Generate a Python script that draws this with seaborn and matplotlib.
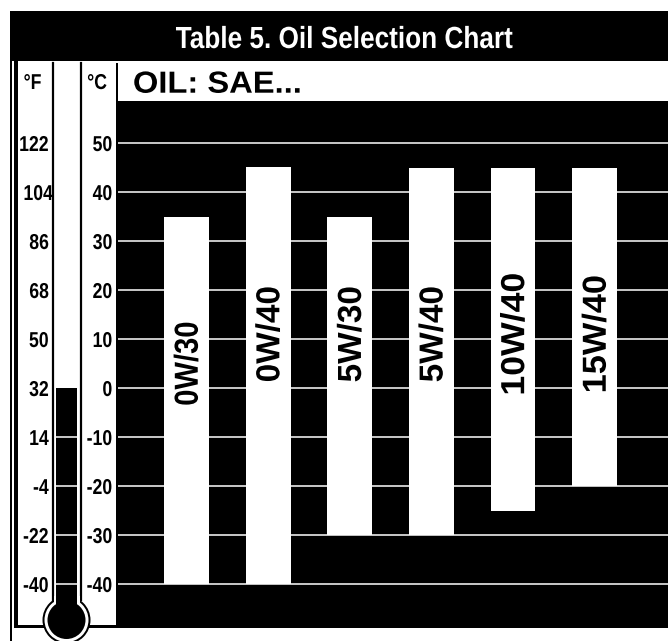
import matplotlib
matplotlib.use("Agg")
import matplotlib.pyplot as plt
from matplotlib.patches import Circle, Rectangle
from matplotlib.patheffects import AbstractPathEffect
from matplotlib.transforms import Affine2D
import pandas as pd
import seaborn as sns


OUTPUT_PATH = "out.png"

TITLE = "Table 5. Oil Selection Chart"
HEADER = "OIL: SAE..."

OILS = ["0W/30", "0W/40", "5W/30", "5W/40", "10W/40", "15W/40"]
TEMP_MAX_C = [35, 45, 35, 45, 45, 45]
TEMP_MIN_C = [-40, -40, -30, -30, -25, -20]

CELSIUS_TICKS = [50, 40, 30, 20, 10, 0, -10, -20, -30, -40]
CELSIUS_LABELS = ["50", "40", "30", "20", "10", "0", "-10", "-20", "-30", "-40"]
FAHRENHEIT_LABELS = ["122", "104", "86", "68", "50", "32", "14", "-4", "-22", "-40"]
THERMOMETER_TOP_C = 0

WIDTH_PX, HEIGHT_PX = 668, 641
FONT = ["Liberation Sans"]


class Squeeze(AbstractPathEffect):
    # the original lettering is condensed, no installed font has that cut
    def __init__(self, sx=1.0, sy=1.0, anchor="center"):
        super().__init__()
        self.sx, self.sy, self.anchor = sx, sy, anchor

    def draw_path(self, renderer, gc, tpath, affine, rgbFace=None):
        box = affine.transform_path(tpath).get_extents()
        cx = {"left": box.x0, "right": box.x1, "center": (box.x0 + box.x1) / 2}[self.anchor]
        cy = (box.y0 + box.y1) / 2
        squeeze = Affine2D().translate(-cx, -cy).scale(self.sx, self.sy).translate(cx, cy)
        renderer.draw_path(gc, tpath, affine + squeeze, rgbFace)


def y_value(y_px):
    # 50 C sits at y=143 and each degree is 4.9 px in the original
    return 50 - (y_px - 143) / 4.9


def add_px_axes(fig, left, top, right, bottom, **kwargs):
    rect = [left / WIDTH_PX, 1 - bottom / HEIGHT_PX, (right - left) / WIDTH_PX, (bottom - top) / HEIGHT_PX]
    return fig.add_axes(rect, **kwargs)


def px_layer(fig, zorder):
    layer = add_px_axes(fig, 0, 0, WIDTH_PX, HEIGHT_PX, zorder=zorder)
    layer.set_xlim(0, WIDTH_PX)
    layer.set_ylim(HEIGHT_PX, 0)
    layer.axis("off")
    return layer


def box(ax, left, top, right, bottom, color="black"):
    ax.add_patch(Rectangle((left, top), right - left, bottom - top, color=color, lw=0))


def style_ticklabels(ax):
    for label in ax.get_yticklabels():
        label.set_fontfamily(FONT)
        label.set_fontweight("bold")
        label.set_path_effects([Squeeze(sx=0.82, anchor="right")])


def main() -> None:
    sns.set_theme(
        style="whitegrid",
        rc={
            "axes.facecolor": "black",
            "figure.facecolor": "white",
            "grid.color": "white",
            "grid.linewidth": 1.1,
        },
    )
    fig = plt.figure(figsize=(WIDTH_PX / 100, HEIGHT_PX / 100), dpi=100)

    # frame, header band and scale panels
    back = px_layer(fig, 0)
    box(back, 10, 11, WIDTH_PX, 61)
    box(back, 10, 61, 12, HEIGHT_PX)
    box(back, 14, 61, 17.5, 628)
    box(back, 14, 625, 118, 628)
    box(back, 116, 63, 118, 628)
    title = back.text(344, 48, TITLE, color="white", fontsize=22, fontweight="bold", family=FONT, ha="center", va="baseline")
    title.set_path_effects([Squeeze(sx=0.857)])
    header = back.text(133, 92.7, HEADER, color="black", fontsize=22, fontweight="bold", family=FONT, ha="left", va="baseline")
    header.set_path_effects([Squeeze(sx=1.07, anchor="left")])
    for x_px, unit in [(32.5, "°F"), (97, "°C")]:
        text = back.text(x_px, 89, unit, color="black", fontsize=15.5, fontweight="bold", family=FONT, ha="center", va="baseline")
        text.set_path_effects([Squeeze(sx=0.82)])

    # oil ranges
    df = pd.DataFrame({"Oil": OILS, "Low": TEMP_MIN_C, "High": TEMP_MAX_C})
    df["Span"] = df["High"] - df["Low"]

    ax = add_px_axes(fig, 118, 101, WIDTH_PX, 628, zorder=1)
    sns.barplot(
        data=df,
        x="Oil",
        y="Span",
        bottom=df["Low"].to_numpy(),
        color="white",
        saturation=1,
        width=0.55,
        linewidth=0,
        ax=ax,
    )
    ax.set_xlim(-0.84, 5.9)
    ax.set_ylim(y_value(628), y_value(101))
    ax.set_xlabel("")
    ax.set_ylabel("")
    ax.set_xticks([])
    ax.set_yticks(CELSIUS_TICKS)
    ax.set_yticklabels(CELSIUS_LABELS)
    ax.grid(False, axis="x")
    ax.grid(True, axis="y")
    ax.tick_params(axis="y", length=0, pad=4, labelsize=15.5, labelcolor="black")
    style_ticklabels(ax)
    for spine in ax.spines.values():
        spine.set_visible(False)

    # lengthwise stretch and mid height of each rotated label
    label_styles = {
        "0W/30": (0.875, 5),
        "0W/40": (1.0, 11),
        "5W/30": (1.0, 11),
        "5W/40": (1.0, 11),
        "10W/40": (1.07, 11),
        "15W/40": (1.03, 11),
    }
    for i, oil in enumerate(OILS):
        stretch, y_mid = label_styles[oil]
        text = ax.text(i + 0.033, y_mid, oil, rotation=90, color="black", fontsize=24, fontweight="bold", family=FONT, ha="center", va="center")
        text.set_path_effects([Squeeze(sy=stretch)])

    # thermometer tube, carries the Fahrenheit labels on its left side
    tube = add_px_axes(fig, 53, 63, 81, 600, zorder=1)
    tube.set_facecolor("white")
    tube.set_xlim(53, 81)
    tube.set_ylim(y_value(600), y_value(63))
    tube.grid(False)
    tube.set_xticks([])
    tube.set_yticks(CELSIUS_TICKS)
    tube.set_yticklabels(FAHRENHEIT_LABELS)
    tube.tick_params(axis="y", length=0, pad=3, labelsize=15.5, labelcolor="black")
    style_ticklabels(tube)
    tube.yaxis.get_major_ticks()[1].set_pad(0)
    tube.spines["top"].set_visible(False)
    tube.spines["bottom"].set_visible(False)
    for side in ["left", "right"]:
        tube.spines[side].set_color("black")
        tube.spines[side].set_linewidth(1.6)
    floor = y_value(600)
    tube.bar([66.5], [THERMOMETER_TOP_C - floor], bottom=floor, width=21, color="black", linewidth=0)
    tube.hlines([t for t in CELSIUS_TICKS if t < THERMOMETER_TOP_C], 56, 77, color="white", linewidth=1.1)

    # bulb
    front = px_layer(fig, 2)
    front.add_patch(Circle((66.5, 620), 24, color="black", lw=0))
    front.add_patch(Circle((66.5, 620), 22, color="white", lw=0))
    box(front, 54, 596, 80, 608, color="white")
    box(front, 56, 596, 77, 608)
    front.add_patch(Circle((66.5, 620), 19, color="black", lw=0))

    fig.savefig(OUTPUT_PATH, dpi=100)
    plt.close(fig)


if __name__ == "__main__":
    main()
